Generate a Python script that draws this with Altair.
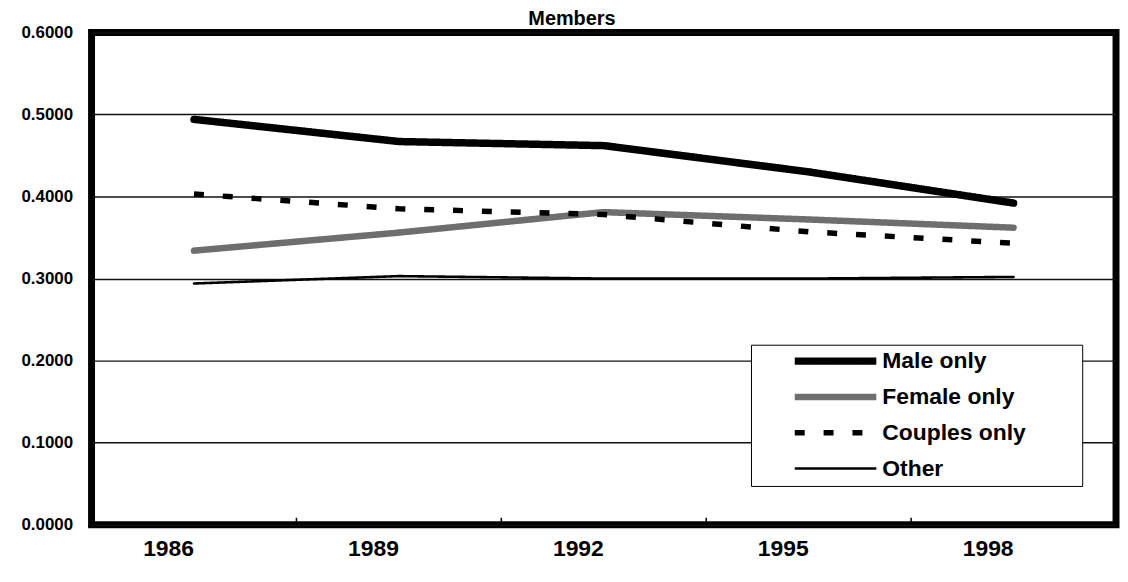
import altair as alt
import pandas as pd

years = ["1986", "1989", "1992", "1995", "1998"]
series_names = ["Male only", "Female only", "Couples only", "Other"]
male_only = [0.494, 0.467, 0.462, 0.430, 0.392]
female_only = [0.334, 0.356, 0.381, 0.372, 0.362]
couples_only = [0.403, 0.385, 0.378, 0.357, 0.343]
other = [0.294, 0.303, 0.300, 0.300, 0.302]
y_ticks = [0.0, 0.1, 0.2, 0.3, 0.4, 0.5, 0.6]
tick_years = years[1:]

colors = ["#000000", "#6e6e6e", "#000000", "#000000"]
widths = [7.5, 6.5, 5.5, 2.6]
dashes = [[1, 0], [1, 0], [10, 19], [1, 0]]

rows = []
for name, vals in zip(series_names, [male_only, female_only, couples_only, other]):
    for yr, v in zip(years, vals):
        rows.append({"year": yr, "value": v, "series": name})
df = pd.DataFrame(rows)

W, H = 1030, 495
FONT = "Liberation Sans"

xscale = alt.Scale(type="band", paddingInner=0, paddingOuter=0, domain=years)

legend_kw = dict(
    title=None,
    orient="none",
    legendX=663,
    legendY=314,
    symbolType="stroke",
    symbolSize=6724,
    clipHeight=23,
    symbolOffset=35,
    labelOffset=2,
    labelFontSize=23,
    labelFont=FONT,
    labelFontWeight="bold",
    labelColor="black",
    labelLimit=400,
    rowPadding=12,
    padding=5,
    strokeColor="black",
    fillColor="white",
    labelExpr="datum.label + '\u2800\u2800\u2800'",
)

enc = dict(
    x=alt.X(
        "year:O",
        bandPosition=0.5,
        scale=xscale,
        axis=alt.Axis(
            title=None,
            labelAngle=0,
            labelFontSize=23,
            labelPadding=24,
            grid=False,
        ),
    ),
    y=alt.Y(
        "value:Q",
        scale=alt.Scale(domain=[0, 0.6], nice=False),
        axis=alt.Axis(
            title=None,
            values=y_ticks,
            format=".4f",
            labelFontSize=17,
            labelPadding=19,
            grid=True,
            gridColor="#111111",
            gridWidth=1.5,
        ),
    ),
    color=alt.Color(
        "series:N",
        scale=alt.Scale(domain=series_names, range=colors),
        legend=alt.Legend(**legend_kw),
    ),
    strokeDash=alt.StrokeDash(
        "series:N",
        scale=alt.Scale(domain=series_names, range=dashes),
        legend=alt.Legend(**legend_kw),
    ),
    strokeWidth=alt.StrokeWidth(
        "series:N",
        scale=alt.Scale(type="ordinal", domain=series_names, range=widths),
        legend=alt.Legend(**legend_kw),
    ),
)

base = alt.Chart(df)
solid = base.transform_filter("datum.series !== 'Couples only'").mark_line(
    strokeCap="round", strokeJoin="round"
).encode(**enc)
dashed = base.transform_filter("datum.series === 'Couples only'").mark_line(
    strokeCap="butt"
).encode(**enc)

ticks = alt.Chart(pd.DataFrame({"year": tick_years})).mark_rule(
    color="black", strokeWidth=1.5
).encode(
    x=alt.X("year:O", bandPosition=0, scale=xscale),
    y=alt.value(H),
    y2=alt.value(H - 7),
)

chart = (
    alt.layer(ticks, solid, dashed)
    .properties(
        width=W,
        height=H,
        autosize=alt.AutoSizeParams(type="none"),
        padding={"left": 84, "top": 23, "right": 4, "bottom": 50},
        title=alt.TitleParams(
            "Members",
            fontSize=20,
            fontWeight="bold",
            font=FONT,
            anchor="middle",
            offset=-6,
            dx=-32,
            color="black",
        ),
        background="white",
    )
    .configure_view(stroke="black", strokeWidth=7)
    .configure_axis(
        labelFont=FONT,
        labelFontWeight="bold",
        labelColor="black",
        domain=False,
        ticks=False,
    )
)

chart.save("out.html", embed_options={"renderer": "svg", "actions": False})
